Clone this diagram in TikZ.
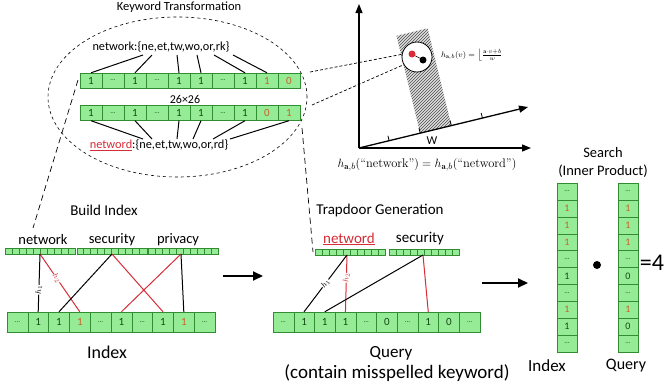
\documentclass[tikz,border=0pt]{standalone}
\usepackage{fontspec}
\newfontfamily\cb{Carlito}
\usetikzlibrary{arrows.meta,patterns,shapes.geometric,calc}
\definecolor{cfill}{RGB}{150,236,150}
\definecolor{cborder}{RGB}{50,140,50}
\definecolor{ctext}{RGB}{20,70,20}
\definecolor{cred}{RGB}{215,45,55}
\definecolor{cor}{RGB}{205,95,35}
\newcommand\dd{{\fontsize{7}{7}\selectfont...}}
\newcommand\rd[1]{\textcolor{cor}{#1}}
\newcommand\fs[1]{\fontsize{#1}{#1}\selectfont}
\newcommand\minibar[3]{%
  \node[mbar] (#1) at (#2,#3) {};
  \foreach \k in {1,...,9}{\draw[cborder, line width=0.5pt] ($(#1.west)+(7*\k,-3)$) -- ++(0,6);}}
\begin{document}
\begin{tikzpicture}[x=1pt,y=-1pt,
  lab/.style={inner sep=0pt, font=\cb\fs{#1}},
  lab/.default=12,
  kcell/.style={draw=cborder, fill=cfill, inner sep=0pt, minimum width=22pt, minimum height=15pt, text=ctext, font=\cb\fs{11}},
  icell/.style={draw=cborder, fill=cfill, inner sep=0pt, minimum width=20.8pt, minimum height=20pt, text=ctext, font=\cb\fs{11}},
  scell/.style={draw=cborder, fill=cfill, inner sep=0pt, minimum width=20pt, minimum height=16.9pt, text=ctext, font=\cb\fs{10}},
  mbar/.style={draw=cborder, fill=cfill, inner sep=0pt, minimum width=70pt, minimum height=6pt, anchor=west, line width=0.5pt},
  link/.style={line width=1pt, black},
  rlink/.style={line width=1pt, cred},
  hl/.style={sloped, fill=white, inner sep=0.3pt, font=\fs{8.5}},
  axis/.style={line width=1.3pt, -{Triangle[length=9pt,width=7pt]}},
  bigarrow/.style={line width=2pt, -{Triangle[length=10pt,width=9pt]}},
  longdash/.style={line width=0.7pt, dash pattern=on 6pt off 4pt},
  shortdash/.style={line width=0.7pt, dash pattern=on 3pt off 2pt}
]
\fill[white] (0,0) rectangle (668,388);
\useasboundingbox (0,0) rectangle (668,388);

% ---------- Keyword transformation ----------
\node[lab=12.5] (title) at (179,7) {Keyword Transformation};
\node[draw, dashed, ellipse, minimum width=259pt, minimum height=160pt, inner sep=0pt, line width=0.6pt] (ell) at (177.5,97) {};
\node[lab=12.3] (kw1) at (161,47) {network:\{ne,et,tw,wo,or,rk\}};
\node[lab=12.3] (kw2) at (159,145) {{\color{cred}\underline{netword}}:\{ne,et,tw,wo,or,rd\}};
\node[lab=12] (dim) at (185,99) {26×26};

\foreach \t [count=\i] in {1,\dd,1,\dd,1,1,\dd,1,\rd{1},\rd{0}}
  \node[kcell] (t\i) at ({69+22*\i},80.5) {\t};
\foreach \t [count=\i] in {1,\dd,1,\dd,1,1,\dd,1,\rd{0},\rd{1}}
  \node[kcell] (b\i) at ({69+22*\i},113) {\t};

\coordinate (g1) at (143,55); \coordinate (g2) at (152,55); \coordinate (g3) at (177,55);
\coordinate (g4) at (197,55); \coordinate (g5) at (214,55); \coordinate (g6) at (233,55);
\draw[link] (g1) -- (t1.north); \draw[link] (g2) -- (t3.north); \draw[link] (g3) -- (t5.north);
\draw[link] (g4) -- (t6.north); \draw[link] (g5) -- (t8.north); \draw[link] (g6) -- (t9.north);

\coordinate (h1c) at (143,139); \coordinate (h2c) at (152,139); \coordinate (h3c) at (177,139);
\coordinate (h4c) at (193,139); \coordinate (h5c) at (213,139); \coordinate (h6c) at (230,139);
\draw[link] (b1.south) -- (h1c); \draw[link] (b3.south) -- (h2c); \draw[link] (b5.south) -- (h3c);
\draw[link] (b6.south) -- (h4c); \draw[link] (b8.south) -- (h5c); \draw[link] (b10.south) -- (h6c);

% ---------- LSH plot ----------
\coordinate (O) at (359,148);
\coordinate (ytop) at (359,4);
\coordinate (xend) at (531,148);
\coordinate (wend) at (528,107);
\coordinate (sA) at (420.2,133.1); \coordinate (sB) at (451.3,125.5);
\coordinate (sC) at (427.6,28.3);  \coordinate (sD) at (396.5,35.9);
\fill[gray!25] (sA) -- (sB) -- (sC) -- (sD) -- cycle;
\fill[pattern=north east lines, pattern color=gray!60!black] (sA) -- (sB) -- (sC) -- (sD) -- cycle;
\draw[axis] (O) -- (ytop);
\draw[axis] (O) -- (xend);
\draw[axis] (O) -- (wend);
\foreach \s in {31,63,95,127}
  \draw[line width=0.8pt] ($(O)+(\s*0.9716,-\s*0.2371)$) -- ++(-1.2,-4.9);
\node[lab=12] (W) at (432,141) {W};
\node[circle, draw, fill=white, minimum size=30pt, inner sep=0pt, line width=0.8pt] (cc) at (417,57) {};
\node[circle, fill=cred, minimum size=7pt, inner sep=0pt] (rdot) at (412,54) {};
\node[circle, fill=black, minimum size=7pt, inner sep=0pt] (bdot) at (423,60) {};
\draw[line width=0.6pt] (rdot) -- (bdot);
\node[inner sep=0pt, font=\fs{8.5}, anchor=west] (fa) at (441,55) {$h_{\mathbf{a},b}(v)=\left\lfloor\frac{\mathbf{a}\cdot v+b}{w}\right.$};
\node[inner sep=0pt, font=\fs{12.5}] (fb) at (427,165) {$h_{\mathbf{a},b}(\mbox{“network”})=h_{\mathbf{a},b}(\mbox{“netword”})$};

\coordinate (e1) at (310,72);
\coordinate (e2) at (312,105);
\draw[shortdash] (e1) -- (cc.170);
\draw[shortdash] (e2) -- (cc.210);

% long dashed lines
\coordinate (dA) at (78,80); \coordinate (dB) at (33,228);
\draw[longdash] (dA) -- (dB);
\coordinate (dC) at (302,128); \coordinate (dD) at (313,252);
\draw[longdash] (dC) -- (dD);

% ---------- Build Index ----------
\node[lab=15] (bi) at (104,210) {Build Index};
\node[lab=14.5] (ln) at (43,240) {network};
\node[lab=14.5] (ls) at (112,240) {security};
\node[lab=14.5] (lp) at (178,240) {privacy};
\minibar{mn}{5}{251}
\minibar{ms}{76.5}{251}
\minibar{mp}{148}{251}
\foreach \t [count=\i] in {\dd,1,1,\rd{1},\dd,1,\dd,1,\rd{1},\dd}
  \node[icell] (x\i) at ({7+20.8*(\i-0.5)},322) {\t};
\coordinate (ns) at (40,254); \coordinate (ss) at (112,254); \coordinate (ps) at (181,254);
\draw[rlink] (ns) -- node[hl, pos=0.42] {$h_2$} (x4.north);
\draw[rlink] (ss) -- (x8.north);
\draw[rlink] (ps) -- (x6.north);
\draw[link] (ns) -- node[hl, pos=0.62] {$h_1$} (x2.north);
\draw[link] (ss) -- (x3.north);
\draw[link] (ps) -- (x9.north);
\node[lab=18] (ix) at (107,352) {Index};

\coordinate (a1s) at (223,276); \coordinate (a1e) at (263,276);
\draw[bigarrow] (a1s) -- (a1e);

% ---------- Trapdoor ----------
\node[lab=15] (tg) at (380,210) {Trapdoor Generation};
\node[lab=15, text=cred] (lw) at (349,239) {\underline{netword}};
\node[lab=15] (ls2) at (420,239) {security};
\minibar{mw}{315}{252}
\minibar{ms2}{389}{252}
\foreach \t [count=\i] in {\dd,1,1,1,\dd,0,\dd,1,0,\dd}
  \node[icell, minimum width=20.7pt] (q\i) at ({273+20.7*(\i-0.5)},322) {\t};
\coordinate (ws) at (347,255); \coordinate (cs) at (423,255);
\draw[rlink] (ws) -- node[hl, pos=0.4] {$h_2$} (q4.north);
\draw[rlink] (cs) -- (q8.north);
\draw[link] (ws) -- node[hl, pos=0.5] {$h_1$} (q2.north);
\draw[link] (cs) -- (q3.north);
\node[lab=17] (qy) at (391,353) {Query};
\node[lab=19] (qc) at (397,373) {(contain misspelled keyword)};

\coordinate (a2s) at (482,283); \coordinate (a2e) at (528,283);
\draw[bigarrow] (a2s) -- (a2e);

% ---------- Search ----------
\node[lab=14.5] (sr) at (603,153) {Search};
\node[lab=14.5] (ip) at (603,171) {(Inner Product)};
\foreach \t [count=\i] in {\dd,\rd{1},\rd{1},\rd{1},\dd,1,\dd,\rd{1},1,\dd}
  \node[scell] (si\i) at (567,{183+16.9*(\i-0.5)}) {\t};
\foreach \t [count=\i] in {\dd,\rd{1},\rd{1},\rd{1},\dd,0,\dd,\rd{1},0,\dd}
  \node[scell] (sq\i) at (628,{183+16.9*(\i-0.5)}) {\t};
\node[circle, fill=black, minimum size=8pt, inner sep=0pt] (dot) at (597,265) {};
\node[lab=24] (eq) at (652,263) {=4};
\node[lab=17] (six) at (547,366) {Index};
\node[lab=16] (sqy) at (626,366) {Query};
\end{tikzpicture}
\end{document}
